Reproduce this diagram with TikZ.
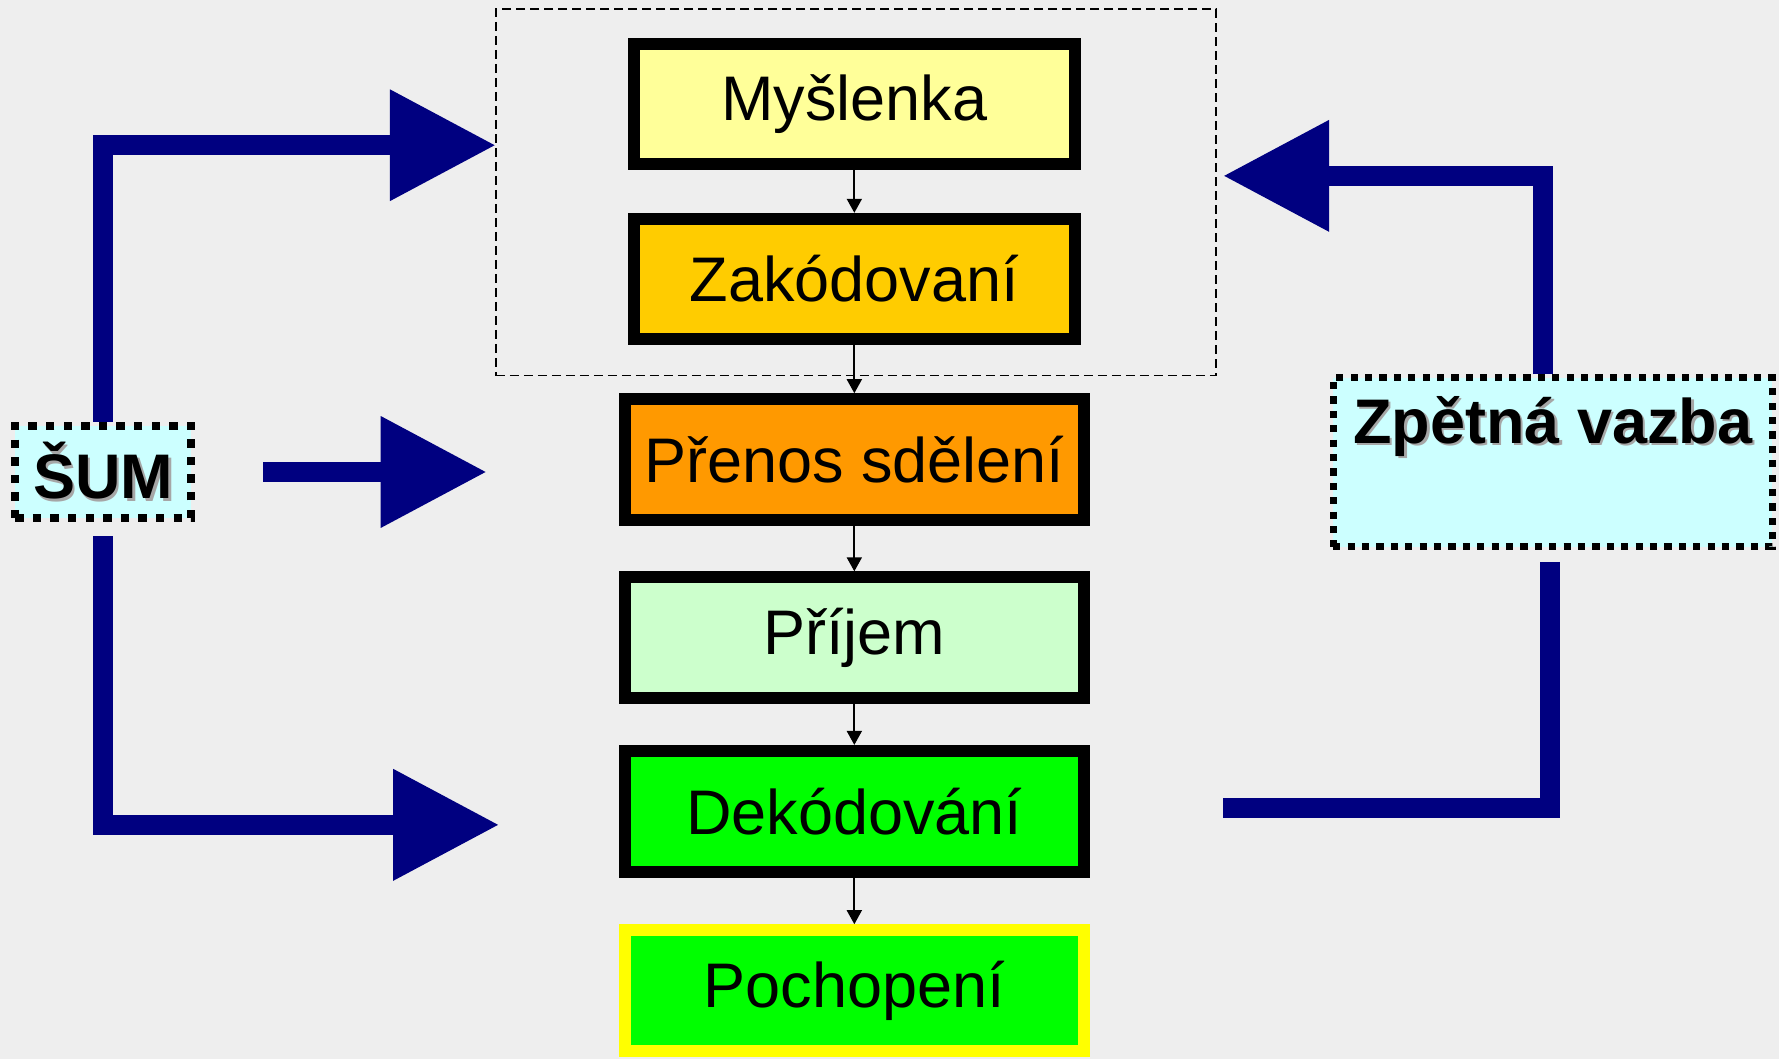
\documentclass[tikz,border=0pt]{standalone}
\usepackage{fontspec}
\setmainfont{Liberation Sans}
\usetikzlibrary{arrows.meta}

\definecolor{bgcol}{HTML}{EEEEEE}
\definecolor{arrowblue}{HTML}{000080}
\definecolor{myslcol}{HTML}{FFFF99}
\definecolor{zakcol}{HTML}{FFCC00}
\definecolor{prencol}{HTML}{FF9900}
\definecolor{prijcol}{HTML}{CCFFCC}
\definecolor{dekcol}{HTML}{00FF00}
\definecolor{pochborder}{HTML}{FFFF00}
\definecolor{noisecol}{HTML}{CCFFFF}

\newcommand{\shadowed}[1]{\rlap{\kern1.3pt\raisebox{-1.3pt}{\textcolor{black!35}{#1}}}#1}

\begin{document}
\begin{tikzpicture}[x=0.5673pt, y=-0.5673pt,
	stage/.style={draw=black, line width=6pt, minimum width=229.6pt, minimum height=60.3pt, inner sep=0pt, font=\fontsize{31.5}{36}\selectfont},
	flow/.style={-{Triangle[width=7.5pt,length=7pt]}, line width=0.9pt},
	noisebox/.style={draw=black, line width=3.6pt, dash pattern=on 3.6pt off 3.6pt, fill=noisecol, inner sep=0pt, font=\fontsize{31.5}{36}\selectfont\bfseries},
	bigline/.style={arrowblue, line width=10.2pt},
	bigarrow/.style={bigline, -{Triangle[width=53pt,length=53pt]}}]
	\useasboundingbox (0,0) rectangle (1568,933);
	\fill[bgcol] (0,0) rectangle (1568,933);

	% sender group
	\node[draw, line width=0.8pt, dash pattern=on 4.5pt off 2.5pt, minimum width=360.2pt, minimum height=183.2pt, inner sep=0pt] (sender) at (754.5,169.5) {};

	% stages
	\node[stage, fill=myslcol, minimum width=220.8pt] (myslenka) at (753,91.5) {Myšlenka};
	\node[stage, fill=zakcol, minimum width=220.8pt] (zakodovani) at (753,246) {Zakódovaní};
	\node[stage, fill=prencol] (prenos) at (753,405) {Přenos sdělení};
	\node[stage, fill=prijcol] (prijem) at (753,562) {Příjem};
	\node[stage, fill=dekcol] (dekodovani) at (753,715) {Dekódování};
	\node[stage, fill=dekcol, draw=pochborder] (pochopeni) at (753,873) {Pochopení};

	\draw[flow] (myslenka) -- (zakodovani);
	\draw[flow] (zakodovani) -- (prenos);
	\draw[flow] (prenos) -- (prijem);
	\draw[flow] (prijem) -- (dekodovani);
	\draw[flow] (dekodovani) -- (pochopeni);

	% noise
	\node[noisebox, line width=4.2pt, dash pattern=on 4.2pt off 4.6pt, minimum width=88pt, minimum height=46pt] (sum) at (91,416) {\shadowed{ŠUM}};
	\coordinate (noiseTop) at (437,128);
	\coordinate (noiseMid) at (429,416);
	\coordinate (noiseBottom) at (440,727);
	\draw[bigarrow] (sum.north) |- (noiseTop);
	\draw[bigarrow, shorten <=34pt] (sum.east) -- (noiseMid);
	\draw[bigarrow, shorten <=7pt] (sum.south) |- (noiseBottom);

	% feedback
	\node[noisebox, minimum width=219.5pt, minimum height=84.5pt, text height=24pt, text depth=43.2pt] (zpetna) at (1368.5,407.5) {\shadowed{Zpětná vazba}};
	\coordinate (feedIn) at (1078,155);
	\coordinate (feedOut) at (1078,712);
	\draw[bigarrow] ([xshift=-4.8pt]zpetna.north) |- (feedIn);
	\draw[bigline, shorten <=5.7pt] ([xshift=-1.4pt]zpetna.south) |- (feedOut);
\end{tikzpicture}
\end{document}
